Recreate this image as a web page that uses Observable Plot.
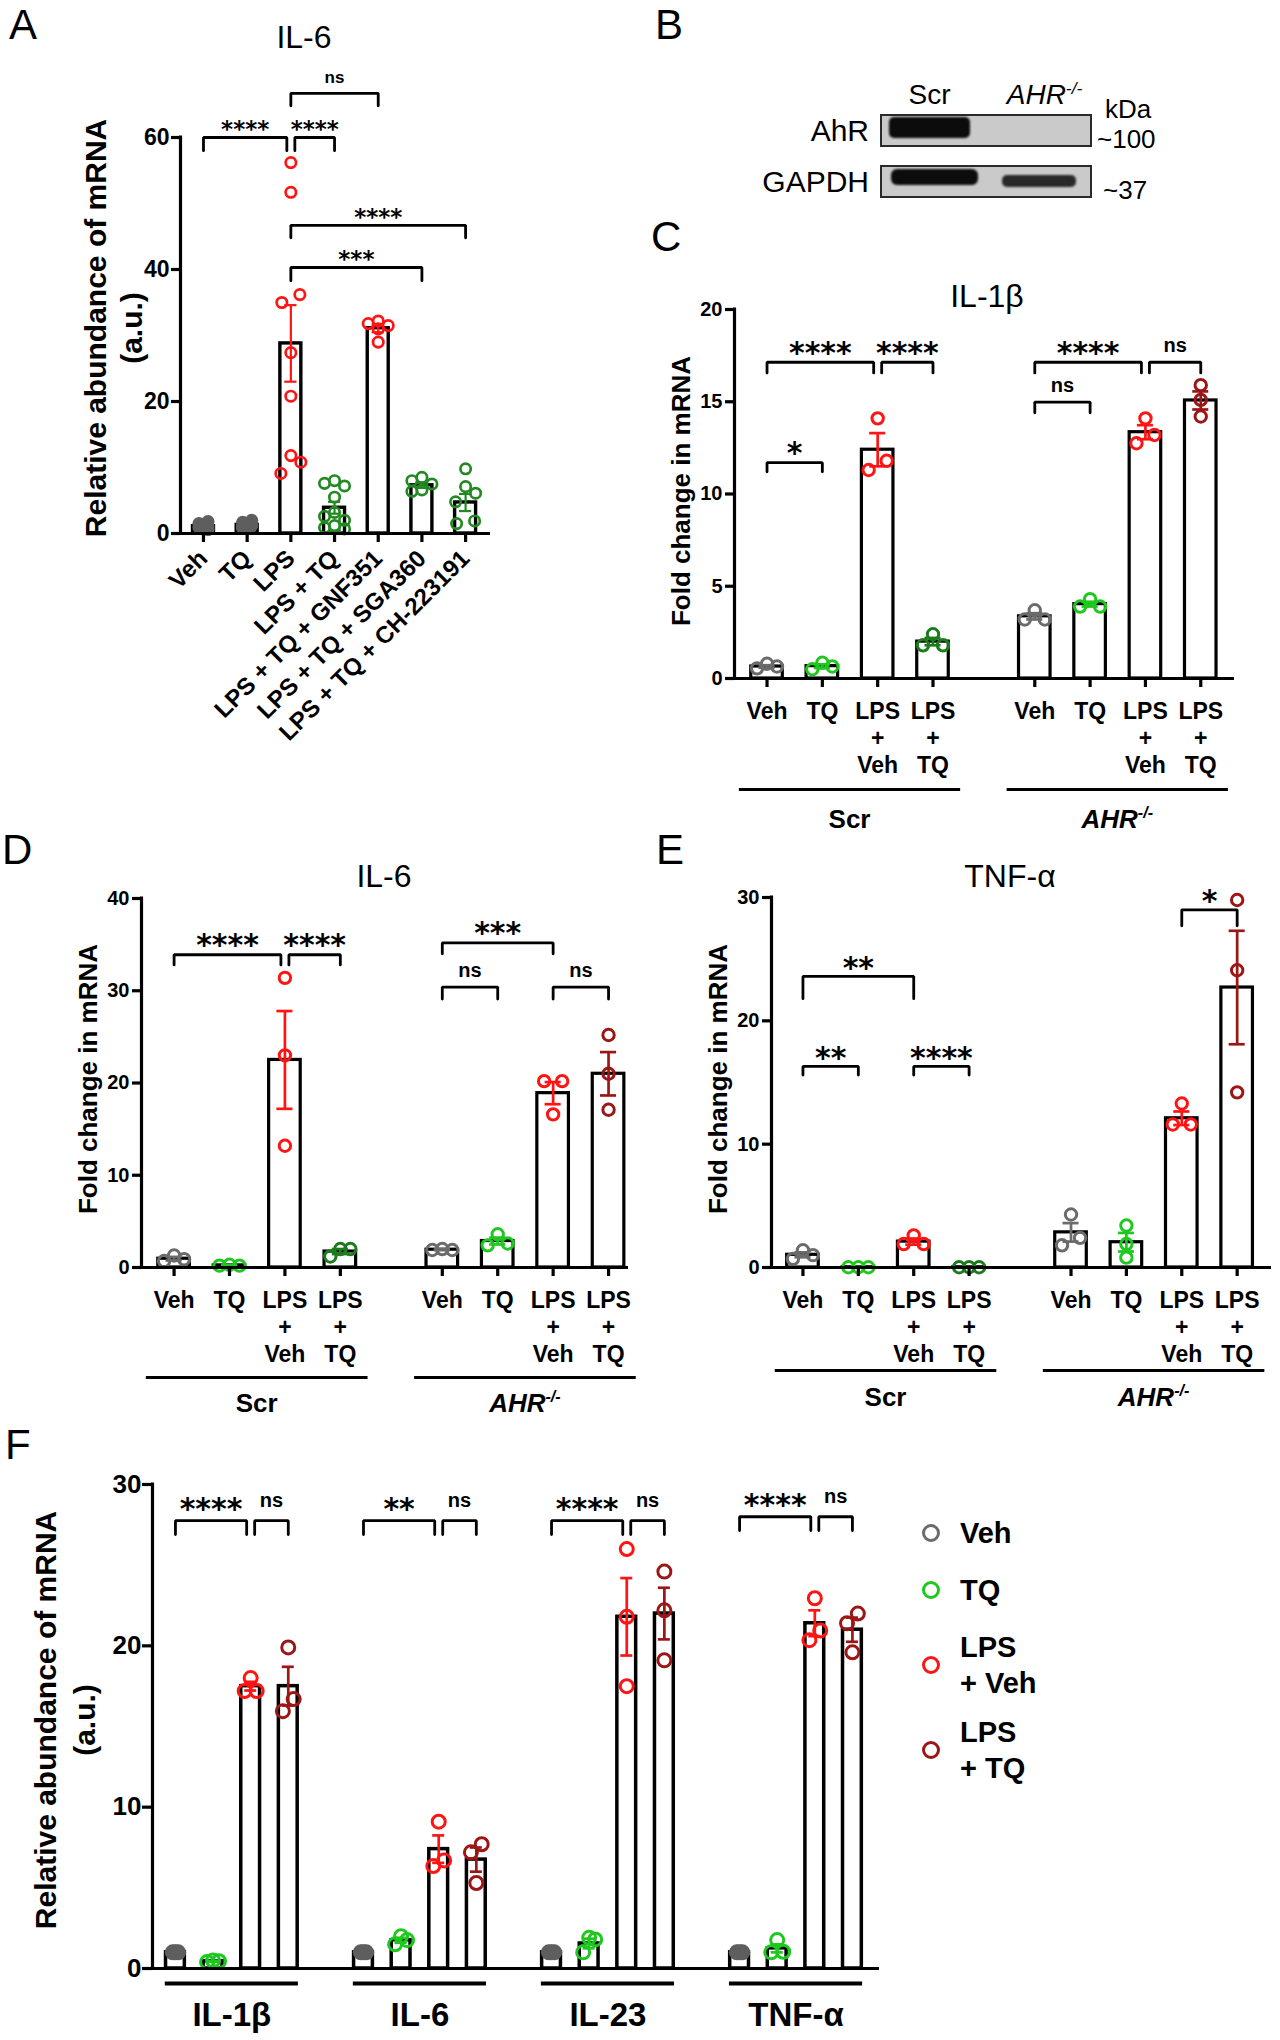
<!DOCTYPE html>
<html><head><meta charset="utf-8">
<script src="https://cdn.jsdelivr.net/npm/d3@7"></script>
<script src="https://cdn.jsdelivr.net/npm/@observablehq/plot@0.6"></script>
<style>
html,body{margin:0;padding:0;background:#fff;}
#page{position:relative;width:1280px;height:2040px;overflow:hidden;font-family:"Liberation Sans",Arial,sans-serif;color:#000;background:#fff;}
.abs{position:absolute;white-space:nowrap;line-height:1;}
#page svg{position:absolute;overflow:visible;max-width:none;}
sup.s{font-size:0.62em;vertical-align:0;position:relative;top:-0.62em;line-height:0;}
</style></head><body><div id="page"></div>
<script>
// ================= DATA =================
// Panel A — IL-6
const aCategories = ["Veh","TQ","LPS","LPS + TQ","LPS + TQ + GNF351","LPS + TQ + SGA360","LPS + TQ + CH-223191"];
const aSeries = ["vehFilled","vehFilled","lps","tqA","lps","tqA","tqA"];
const aMeans = [1.1, 1.3, 28.8, 3.9, 31.1, 7.3, 4.7];
const aSem = [0.1, 0.1, 5.8, 0.9, 0.6, 0.4, 1.3];
const aPoints = [
  [0.7, 1.5, 1.0, 1.8, 0.9, 1.3, 0.6],
  [1.0, 1.7, 1.2, 2.0, 0.8, 1.5, 1.1],
  [56.2, 51.7, 36.2, 35.0, 27.4, 20.8, 11.8, 10.8, 9.1],
  [8.0, 7.6, 7.2, 5.5, 3.2, 2.6, 2.0, 1.2, 0.9, 0.7],
  [32.2, 31.8, 31.5, 31.0, 29.0],
  [8.5, 8.0, 7.5, 6.6, 6.4],
  [9.8, 7.1, 6.1, 4.8, 1.9, 1.5]
];
const aBrackets = [
  {from:"Veh", to:"LPS", y:60, end:58, label:"****"},
  {from:"LPS", to:"LPS + TQ", y:60, end:58, label:"****"},
  {from:"LPS", to:"LPS + TQ + GNF351", y:66.7, end:64.8, label:"ns"},
  {from:"LPS", to:"LPS + TQ + CH-223191", y:46.7, end:44.8, label:"****"},
  {from:"LPS", to:"LPS + TQ + SGA360", y:40.3, end:38.3, label:"***"}
];

// Panel B — western blot
const bLanes = ["Scr","AHR-/-"];
const bProteins = ["AhR","GAPDH"];
const bSizes = ["~100","~37"];
const bBands = [
  {lane:"Scr", protein:"AhR", signal:1.0},
  {lane:"AHR-/-", protein:"AhR", signal:0.0},
  {lane:"Scr", protein:"GAPDH", signal:1.0},
  {lane:"AHR-/-", protein:"GAPDH", signal:0.85}
];

// Panels C, D, E — shared categories
const cellLines = ["Scr","AHR-/-"];
const conditions = ["Veh","TQ","LPS + Veh","LPS + TQ"];
const conditionTicks = ["Veh","TQ","LPS\n+\nVeh","LPS\n+\nTQ"];
const cdeSeries = [["veh","tq","lps","tqDark"],["veh","tq","lps","lpsTq"]];

// Panel C — IL-1β
const cMeans = [[0.65,0.67,12.4,2.0],[3.37,4.03,13.35,15.07]];
const cSem = [[0.07,0.1,0.9,0.2],[0.17,0.13,0.38,0.49]];
const cPoints = [
  [[0.55,0.8,0.65],[0.5,0.85,0.65],[14.1,11.3,11.8],[2.4,1.8,1.8]],
  [[3.7,3.2,3.2],[4.3,3.9,3.9],[14.1,12.75,13.2],[15.9,15.1,14.2]]
];
const cBrackets = [
  {cell:"Scr", from:"Veh", to:"TQ", y:11.7, end:11.2, label:"*"},
  {cell:"Scr", from:"Veh", to:"LPS + Veh", y:17.14, end:16.56, label:"****"},
  {cell:"Scr", from:"LPS + Veh", to:"LPS + TQ", y:17.14, end:16.56, label:"****"},
  {cell:"AHR-/-", from:"Veh", to:"LPS + Veh", y:17.14, end:16.56, label:"****"},
  {cell:"AHR-/-", from:"LPS + Veh", to:"LPS + TQ", y:17.14, end:16.56, label:"ns"},
  {cell:"AHR-/-", from:"Veh", to:"TQ", y:14.98, end:14.4, label:"ns"}
];

// Panel D — IL-6
const dMeans = [[0.95,0.23,22.5,1.73],[1.93,2.87,18.9,21.0]];
const dSem = [[0.2,0.05,5.3,0.27],[0.05,0.37,1.2,2.35]];
const dPoints = [
  [[0.7,1.3,0.9],[0.2,0.3,0.2],[31.4,23.0,13.2],[1.2,2.0,2.0]],
  [[1.9,2.0,1.9],[3.6,2.4,2.6],[20.2,20.2,16.6],[25.2,21.0,17.1]]
];
const dBrackets = [
  {cell:"Scr", from:"Veh", to:"LPS + Veh", y:33.9, end:32.8, label:"****"},
  {cell:"Scr", from:"LPS + Veh", to:"LPS + TQ", y:33.9, end:32.8, label:"****"},
  {cell:"AHR-/-", from:"Veh", to:"LPS + Veh", y:35.2, end:34.0, label:"***"},
  {cell:"AHR-/-", from:"Veh", to:"TQ", y:30.4, end:29.1, label:"ns"},
  {cell:"AHR-/-", from:"LPS + Veh", to:"LPS + TQ", y:30.4, end:29.1, label:"ns"}
];

// Panel E — TNF-α
const eMeans = [[1.03,0.02,2.1,0.02],[2.85,2.05,12.1,22.7]];
const eSem = [[0.2,0.01,0.25,0.01],[0.75,0.75,0.55,4.6]];
const ePoints = [
  [[0.7,1.4,1.0],[0.02,0.02,0.02],[2.6,1.9,1.9],[0.02,0.02,0.02]],
  [[4.3,1.8,2.4],[3.4,1.9,0.8],[13.3,11.6,11.6],[29.8,24.1,14.2]]
];
const eBrackets = [
  {cell:"Scr", from:"Veh", to:"LPS + Veh", y:23.6, end:21.8, label:"**"},
  {cell:"Scr", from:"Veh", to:"TQ", y:16.3, end:15.6, label:"**"},
  {cell:"Scr", from:"LPS + Veh", to:"LPS + TQ", y:16.3, end:15.6, label:"****"},
  {cell:"AHR-/-", from:"LPS + Veh", to:"LPS + TQ", y:29.0, end:27.7, label:"*"}
];

// Panel F — relative abundance by cytokine
const fGenes = ["IL-1β","IL-6","IL-23","TNF-α"];
const fTreatments = ["Veh","TQ","LPS + Veh","LPS + TQ"];
const fSeries = ["vehFilled","tq","lps","lpsTq"];
const fMeans = [[1.0,0.45,17.5,17.5],[1.0,1.75,7.4,6.75],[1.0,1.55,21.8,22.0],[1.0,1.25,21.4,21.0]];
const fSem = [[0.02,0.03,0.27,1.2],[0.02,0.15,0.85,0.75],[0.02,0.3,2.4,1.6],[0.02,0.25,0.8,0.75]];
const fPoints = [
  [[1.0,1.0,1.0],[0.4,0.5,0.45],[18.0,17.2,17.2],[19.9,16.7,15.95]],
  [[1.0,1.0,1.0],[2.0,1.76,1.5],[9.1,6.7,6.35],[7.7,7.2,5.3]],
  [[1.0,1.0,1.0],[1.9,1.8,1.0],[26.0,21.8,17.5],[24.6,22.2,19.1]],
  [[1.0,1.0,1.0],[1.76,1.04,1.0],[22.95,20.95,20.35],[22.0,21.4,19.6]]
];
const fBrackets = [
  {gene:"IL-1β", from:"Veh", to:"LPS + Veh", y:27.76, end:26.9, label:"****"},
  {gene:"IL-1β", from:"LPS + Veh", to:"LPS + TQ", y:27.76, end:26.9, label:"ns"},
  {gene:"IL-6", from:"Veh", to:"LPS + Veh", y:27.76, end:26.9, label:"**"},
  {gene:"IL-6", from:"LPS + Veh", to:"LPS + TQ", y:27.76, end:26.9, label:"ns"},
  {gene:"IL-23", from:"Veh", to:"LPS + Veh", y:27.76, end:26.9, label:"****"},
  {gene:"IL-23", from:"LPS + Veh", to:"LPS + TQ", y:27.76, end:26.9, label:"ns"},
  {gene:"TNF-α", from:"Veh", to:"LPS + Veh", y:28.0, end:27.15, label:"****"},
  {gene:"TNF-α", from:"LPS + Veh", to:"LPS + TQ", y:28.0, end:27.15, label:"ns"}
];
const legendLabels = ["Veh","TQ","LPS<br>+ Veh","LPS<br>+ TQ"];
const legendSeries = ["veh","tq","lps","lpsTq"];

// ================= STYLE =================
const COLORS = {veh:"#6b6b6b", vehFilled:"#5e5e5e", tq:"#1fc81f", tqDark:"#1c7c1c", tqA:"#238a23", lps:"#ff1414", lpsTq:"#9c1616"};
const FONT = '"Liberation Sans", Arial, sans-serif';
const GROUP_STEP = 4.84;
const page = document.getElementById("page");

function txt(html, x, y, o = {}) {
  const el = document.createElement("div");
  el.className = "abs";
  const size = o.size || 26;
  el.style.fontSize = size + "px";
  el.style.fontWeight = o.weight || "bold";
  if (o.italic) el.style.fontStyle = "italic";
  el.innerHTML = html;
  el.style.left = x + "px";
  el.style.top = (y - 0.8465 * size) + "px";
  const a = o.anchor || "start";
  el.style.transform = a === "middle" ? "translateX(-50%)" : a === "end" ? "translateX(-100%)" : "none";
  page.appendChild(el);
  return el;
}
function rotLabel(html, cx, cy, size, lh) {
  const el = document.createElement("div");
  el.className = "abs";
  el.style.fontSize = size + "px";
  el.style.fontWeight = "bold";
  el.style.lineHeight = lh + "px";
  el.style.textAlign = "center";
  el.innerHTML = html;
  el.style.left = cx + "px";
  el.style.top = cy + "px";
  el.style.transform = "translate(-50%,-50%) rotate(-90deg)";
  page.appendChild(el);
}

function spread(vals, k, thr, d) {
  const n = vals.length, off = new Array(n).fill(0);
  const order = d3.range(n).sort((a, b) => vals[a] - vals[b]);
  const clusters = []; let cur = [order[0]];
  for (let j = 1; j < n; j++) {
    if ((vals[order[j]] - vals[order[j - 1]]) * k < thr) cur.push(order[j]);
    else { clusters.push(cur); cur = [order[j]]; }
  }
  clusters.push(cur);
  for (const c of clusters) {
    if (c.length === 2) { off[c[0]] = -0.9 * d; off[c[1]] = 0.9 * d; }
    else if (c.length === 3) { off[c[0]] = -d; off[c[1]] = d; off[c[2]] = 0; }
    else if (c.length > 3) {
      const placed = [];
      for (const i of c.slice().sort((a, b) => a - b)) {
        let best = 0, bestScore = -1;
        for (const cand of [0, -d, d]) {
          const md = placed.length ? d3.min(placed, p => Math.hypot(p.x - cand, (p.v - vals[i]) * k)) : Infinity;
          if (md >= thr) { best = cand; bestScore = Infinity; break; }
          if (md > bestScore) { bestScore = md; best = cand; }
        }
        off[i] = best; placed.push({x: best, v: vals[i]});
      }
    }
  }
  return off;
}

function panel(cfg) {
  const {left, top, width, height, mL, mR, mT, mB, xDomain, yDomain, yTicks, bars, brackets,
    barW, r, sw, dSpread, barStroke, yFont, yPad, ySize, xAxis, capW, errW = 2.6,
    starFont, starDy, nsFont, nsDy, extra = []} = cfg;
  const pxX = (width - mL - mR) / (xDomain[1] - xDomain[0]);
  const pxY = (height - mT - mB) / (yDomain[1] - yDomain[0]);
  const dots = [];
  for (const b of bars) {
    const offs = spread(b.pts, pxY, 2 * r + 1, b.filled ? dSpread * 0.45 : dSpread);
    b.pts.forEach((v, i) => dots.push({x: b.pos + offs[i] / pxX, v, color: b.color, filled: b.filled}));
  }
  const errs = bars.filter(b => b.sem > 0);
  const caps = errs.flatMap(b => [{pos: b.pos, y: b.mean - b.sem, color: b.color}, {pos: b.pos, y: b.mean + b.sem, color: b.color}]);
  const inset = 4 / pxX;
  const bl = brackets.map((k, i) => {
    const sharedL = brackets.some(o => o !== k && o.y === k.y && Math.abs(o.x2 - k.x1) < 1e-6);
    const sharedR = brackets.some(o => o !== k && o.y === k.y && Math.abs(o.x1 - k.x2) < 1e-6);
    return {...k, id: i, xa: k.x1 + (sharedL ? inset : 0), xb: k.x2 - (sharedR ? inset : 0)};
  });
  const bpts = bl.flatMap(k => [
    {id: k.id, x: k.xa, y: k.end}, {id: k.id, x: k.xa, y: k.y},
    {id: k.id, x: k.xb, y: k.y}, {id: k.id, x: k.xb, y: k.end}]);
  const isStar = k => k.label.includes("*");
  const svg = Plot.plot({
    width, height, marginLeft: mL, marginRight: mR, marginTop: mT, marginBottom: mB,
    x: {domain: xDomain, axis: null}, y: {domain: yDomain, axis: null},
    style: {fontFamily: FONT, fontWeight: "bold", color: "black", background: "transparent", overflow: "visible"},
    marks: [
      Plot.rect(bars, {x1: b => b.pos - barW / 2, x2: b => b.pos + barW / 2, y1: () => 0, y2: "mean",
        fill: "white", stroke: "black", strokeWidth: barStroke}),
      Plot.ruleX(errs, {x: "pos", y1: b => b.mean - b.sem, y2: b => b.mean + b.sem, stroke: "color", strokeWidth: errW}),
      Plot.ruleY(caps, {x1: c => c.pos - capW, x2: c => c.pos + capW, y: "y", stroke: "color", strokeWidth: errW}),
      Plot.dot(dots.filter(d => !d.filled), {x: "x", y: "v", r, stroke: "color", fill: "none", strokeWidth: sw}),
      Plot.dot(dots.filter(d => d.filled), {x: "x", y: "v", r: r + sw / 2, fill: "color", stroke: "none"}),
      Plot.line(bpts, {x: "x", y: "y", z: "id", stroke: "black", strokeWidth: 2.8, strokeLinejoin: "miter"}),
      Plot.text(bl.filter(isStar), {x: k => (k.xa + k.xb) / 2, y: "y", text: "label", fontSize: starFont,
        fontFamily: "DejaVu Sans", fontWeight: "bold", dy: starDy}),
      Plot.text(bl.filter(k => !isStar(k)), {x: k => (k.xa + k.xb) / 2, y: "y", text: "label", fontSize: nsFont, dy: nsDy}),
      Plot.ruleY([0], {strokeWidth: 3.2}),
      Plot.ruleX([xDomain[0]], {y1: yDomain[0], y2: yDomain[1], strokeWidth: 3.2, strokeLinecap: "square"}),
      Plot.axisY({ticks: yTicks, tickSize: ySize, tickPadding: yPad, fontSize: yFont, strokeWidth: 3.2, label: null}),
      ...(xAxis ? [Plot.axisX(xAxis)] : []),
      ...extra
    ]
  });
  svg.style.left = left + "px";
  svg.style.top = top + "px";
  page.appendChild(svg);
  return svg;
}

// ================= PANEL A =================
const aBars = aCategories.map((c, i) => ({pos: i, mean: aMeans[i], sem: aSem[i], pts: aPoints[i],
  color: COLORS[aSeries[i]], filled: aSeries[i] === "vehFilled"}));
const aBr = aBrackets.map(k => ({...k, x1: aCategories.indexOf(k.from), x2: aCategories.indexOf(k.to)}));
panel({left: 0, top: 0, width: 640, height: 830, mL: 180, mR: 150, mT: 137, mB: 297,
  xDomain: [-0.526, 6.57], yDomain: [0, 60], yTicks: [0, 20, 40, 60], bars: aBars, brackets: aBr,
  barW: 0.48, r: 5.2, sw: 2.7, dSpread: 10, barStroke: 3.4, yFont: 23, yPad: 2, ySize: 9, capW: 0.14, errW: 2.2,
  starFont: 23, starDy: -8, nsFont: 17, nsDy: -16,
  xAxis: {ticks: d3.range(aCategories.length), tickFormat: i => aCategories[i], tickRotate: -45,
    tickSize: 9, tickPadding: 12, fontSize: 24, strokeWidth: 3.2, label: null}
});

// ================= PANELS C, D, E =================
function cdeBars(means, sems, points) {
  return cellLines.flatMap((cell, ci) => conditions.map((cond, j) => ({
    cell, cond, pos: j + ci * GROUP_STEP, mean: means[ci][j], sem: sems[ci][j], pts: points[ci][j],
    color: COLORS[cdeSeries[ci][j]], filled: false})));
}
function cdeBrackets(bars, brs) {
  const p = (cell, cond) => bars.find(b => b.cell === cell && b.cond === cond).pos;
  return brs.map(k => ({...k, x1: p(k.cell, k.from), x2: p(k.cell, k.to)}));
}
const cellGroups = cellLines.map((cell, ci) => ({name: cell, x1: ci * GROUP_STEP - 0.5, x2: ci * GROUP_STEP + conditions.length - 1 + 0.5}));
function cdePanel(cfg, means, sems, points, brs, underDy, labelOff) {
  const bars = cdeBars(means, sems, points);
  const svg = panel({...cfg, bars, brackets: cdeBrackets(bars, brs),
    barW: 0.57, r: 5.7, sw: 3, dSpread: 10, barStroke: 3.2, yFont: 20, yPad: 3, ySize: 9, capW: 0.145, errW: 2.7,
    xAxis: {ticks: bars.map(b => b.pos), tickFormat: p => conditionTicks[conditions.indexOf(bars.find(b => Math.abs(b.pos - p) < 1e-6).cond)],
      tickSize: 9, tickPadding: 12, fontSize: 23, lineHeight: 1.18, strokeWidth: 3.2, label: null},
    extra: [Plot.ruleY(cellGroups, {y: () => 0, x1: "x1", x2: "x2", dy: underDy, strokeWidth: 3})]
  });
  const sx = svg.scale("x"), sy = svg.scale("y");
  cellGroups.forEach(g => {
    const cx = cfg.left + sx.apply((g.x1 + g.x2) / 2);
    const by = cfg.top + sy.apply(0) + labelOff;
    const html = g.name === "Scr" ? "Scr" : '<i>AHR</i><sup class="s"><i>-/-</i></sup>';
    txt(html, cx, by, {size: 26, anchor: "middle"});
  });
  return svg;
}
cdePanel({left: 640, top: 215, width: 640, height: 630, mL: 94, mR: 46, mT: 94, mB: 167,
  xDomain: [-0.588, 8.45], yDomain: [0, 20], yTicks: [0, 5, 10, 15, 20],
  starFont: 30, starDy: -9, nsFont: 20, nsDy: -17}, cMeans, cSem, cPoints, cBrackets, 111, 150);
cdePanel({left: 0, top: 830, width: 640, height: 600, mL: 141, mR: 12, mT: 68, mB: 163,
  xDomain: [-0.588, 8.20], yDomain: [0, 40], yTicks: [0, 10, 20, 30, 40],
  starFont: 30, starDy: -9.3, nsFont: 20, nsDy: -16}, dMeans, dSem, dPoints, dBrackets, 110, 145);
cdePanel({left: 640, top: 830, width: 640, height: 600, mL: 131, mR: 9, mT: 67, mB: 163,
  xDomain: [-0.568, 8.46], yDomain: [0, 30], yTicks: [0, 10, 20, 30],
  starFont: 30, starDy: -8.5, nsFont: 20, nsDy: -16}, eMeans, eSem, ePoints, eBrackets, 103, 139);

// ================= PANEL F =================
const fBars = fGenes.flatMap((g, gi) => fTreatments.map((t, j) => ({gene: g, cond: t, pos: gi * 5 + j,
  mean: fMeans[gi][j], sem: fSem[gi][j], pts: fPoints[gi][j], color: COLORS[fSeries[j]], filled: fSeries[j] === "vehFilled"})));
const fBr = fBrackets.map(k => {
  const p = c => fBars.find(b => b.gene === k.gene && b.cond === c).pos;
  return {...k, x1: p(k.from), x2: p(k.to)};
});
const geneGroups = fGenes.map((g, gi) => ({name: g, x1: gi * 5 - 0.27, x2: gi * 5 + fTreatments.length - 1 + 0.27}));
panel({left: 0, top: 1430, width: 900, height: 610, mL: 152, mR: 21, mT: 54, mB: 72,
  xDomain: [-0.61, 18.72], yDomain: [0, 30], yTicks: [0, 10, 20, 30], bars: fBars, brackets: fBr,
  barW: 0.5, r: 6.5, sw: 3, dSpread: 6, barStroke: 3.5, yFont: 26, yPad: 1, ySize: 10, capW: 0.16, errW: 2.7,
  starFont: 30, starDy: -11.6, nsFont: 20, nsDy: -20,
  extra: [
    Plot.ruleY(geneGroups, {y: () => 0, x1: "x1", x2: "x2", dy: 15, strokeWidth: 4}),
    Plot.text(geneGroups, {x: g => (g.x1 + g.x2) / 2, y: () => 0, text: "name", dy: 47, fontSize: 33, fontWeight: "bold"})
  ]
});

// ================= PANEL B (blot) =================
const bsvg = Plot.plot({
  width: 640, height: 110, marginLeft: 241, marginRight: 189, marginTop: 15, marginBottom: 13,
  x: {type: "band", domain: bLanes, padding: 0, axis: null},
  y: {type: "band", domain: bProteins, paddingInner: 0.4, paddingOuter: 0, axis: null},
  style: {background: "transparent", overflow: "visible"},
  marks: [
    Plot.cell(bProteins, {y: d => d, fill: "#cacaca", stroke: "#2a2a2a", strokeWidth: 2}),
    Plot.cell(bBands.filter(b => b.signal > 0 && b.protein === "AhR"), {x: "lane", y: "protein", fill: "#0c0c0c",
      fillOpacity: b => b.signal, insetLeft: 8, insetRight: 16, insetTop: 2, insetBottom: 8, rx: 5, imageFilter: "blur(0.8px)"}),
    Plot.cell(bBands.filter(b => b.signal > 0 && b.protein === "GAPDH" && b.lane === "Scr"), {x: "lane", y: "protein", fill: "#0c0c0c",
      fillOpacity: b => b.signal, insetLeft: 10, insetRight: 8, insetTop: 3, insetBottom: 12, rx: 6, imageFilter: "blur(0.8px)"}),
    Plot.cell(bBands.filter(b => b.signal > 0 && b.protein === "GAPDH" && b.lane !== "Scr"), {x: "lane", y: "protein", fill: "#0c0c0c",
      fillOpacity: b => b.signal, insetLeft: 16, insetRight: 15, insetTop: 9, insetBottom: 10, rx: 5, imageFilter: "blur(0.8px)"})
  ]
});
bsvg.style.left = "640px"; bsvg.style.top = "100px";
page.appendChild(bsvg);
{
  const sx = bsvg.scale("x"), sy = bsvg.scale("y");
  bLanes.forEach(l => {
    const cx = 640 + sx.apply(l) + sx.bandwidth / 2;
    const html = l === "Scr" ? "Scr" : '<i>AHR</i><sup class="s"><i>-/-</i></sup>';
    txt(html, cx - (l === "Scr" ? 4 : -6), 105, {size: 28, weight: "normal", anchor: "middle"});
  });
  bProteins.forEach((p, i) => {
    const cy = 100 + sy.apply(p) + sy.bandwidth / 2;
    txt(p, 869, cy + 11, {size: 30, weight: "normal", anchor: "end"});
    txt(bSizes[i], 1097 + (i ? 6 : 0), cy + 17.5, {size: 26, weight: "normal"});
  });
  txt("kDa", 1105, 118, {size: 26, weight: "normal"});
}

// ================= TEXT: letters, titles, y labels, legend =================
txt("A", 9, 40, {size: 42, weight: "normal"});
txt("B", 655, 40, {size: 42, weight: "normal"});
txt("C", 651, 252, {size: 42, weight: "normal"});
txt("D", 2, 865, {size: 42, weight: "normal"});
txt("E", 656, 865, {size: 42, weight: "normal"});
txt("F", 5, 1460, {size: 42, weight: "normal"});

txt("IL-6", 304, 48, {size: 32, weight: "normal", anchor: "middle"});
txt("IL-1β", 987, 307, {size: 32, weight: "normal", anchor: "middle"});
txt("IL-6", 384, 887, {size: 32, weight: "normal", anchor: "middle"});
txt("TNF-α", 1010, 887, {size: 32, weight: "normal", anchor: "middle"});

rotLabel("Relative abundance of mRNA<br>(a.u.)", 114, 328, 30, 36);
rotLabel("Fold change in mRNA", 681, 491, 26, 30);
rotLabel("Fold change in mRNA", 88, 1079, 26, 30);
rotLabel("Fold change in mRNA", 718, 1079, 26, 30);
rotLabel("Relative abundance of mRNA<br>(a.u.)", 65, 1720, 30, 39);

// legend for F
const legendY = [1533, 1590, 1665, 1750];
legendLabels.forEach((lab, i) => {
  const c = document.createElement("div");
  c.className = "abs";
  Object.assign(c.style, {left: (931 - 9.5) + "px", top: (legendY[i] - 9.5) + "px", width: "12px", height: "12px",
    border: "3.5px solid " + COLORS[legendSeries[i]], borderRadius: "50%"});
  page.appendChild(c);
  const lines = lab.split("<br>");
  if (lines.length === 1) txt(lab, 960, legendY[i] + 11, {size: 29});
  else { txt(lines[0], 960, legendY[i] - 7, {size: 29}); txt(lines[1], 960, legendY[i] + 29, {size: 29}); }
});
</script></body></html>
